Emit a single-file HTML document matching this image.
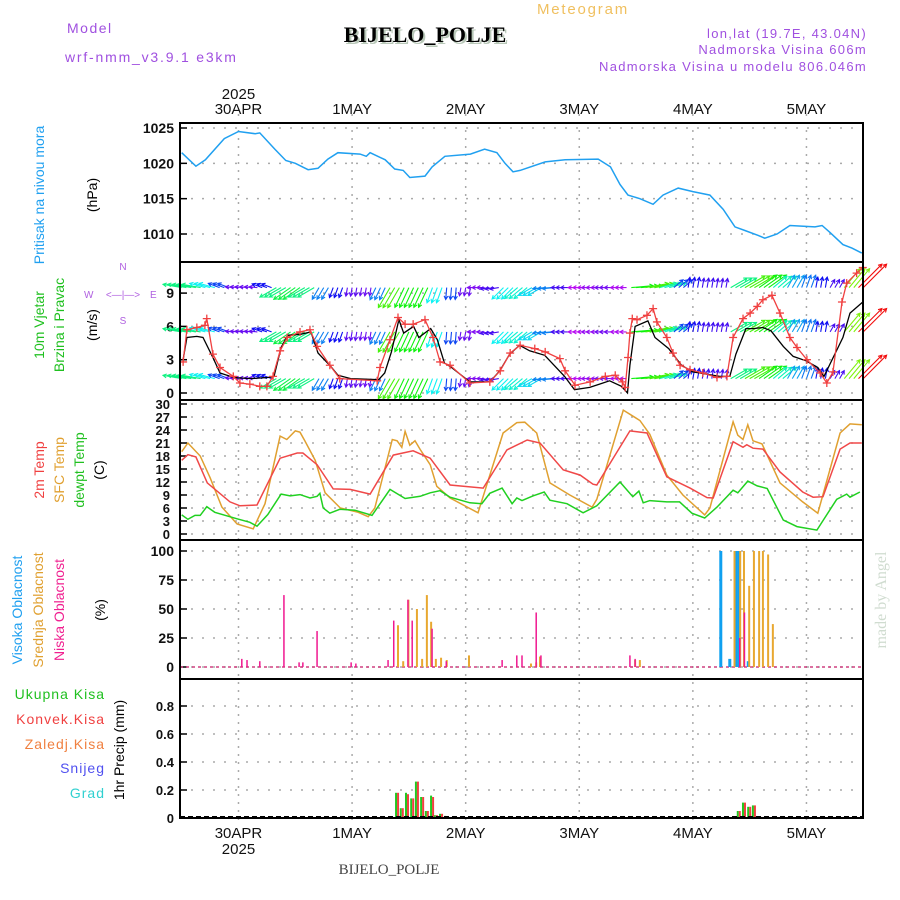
<!DOCTYPE html>
<html><head><meta charset="utf-8"><style>
body{margin:0;background:#fff;}
svg{display:block;font-family:"Liberation Sans",sans-serif;}
</style></head><body>
<svg id="chart" width="900" height="900" viewBox="0 0 900 900">
<rect width="900" height="900" fill="#fff"/>
<g>
<text x="67" y="33" font-size="14" fill="#a050e0" letter-spacing="1.5">Model</text>
<text x="65" y="62" font-size="14" fill="#a050e0" letter-spacing="1.8">wrf-nmm_v3.9.1 e3km</text>
<text x="427" y="44" font-size="22" font-weight="bold" font-family="Liberation Serif,serif" fill="#b8c8b8" text-anchor="middle">BIJELO_POLJE</text>
<text x="425" y="42" font-size="22" font-weight="bold" font-family="Liberation Serif,serif" fill="#000" text-anchor="middle">BIJELO_POLJE</text>
<text x="583" y="14" font-size="15" fill="#f0c060" text-anchor="middle" letter-spacing="1.8">Meteogram</text>
<text x="867" y="38" font-size="13" fill="#a050e0" text-anchor="end" letter-spacing="1.3">lon,lat (19.7E, 43.04N)</text>
<text x="867" y="54" font-size="13" fill="#a050e0" text-anchor="end" letter-spacing="1.3">Nadmorska Visina 606m</text>
<text x="867" y="71" font-size="13" fill="#a050e0" text-anchor="end" letter-spacing="1.3">Nadmorska Visina u modelu 806.046m</text>
</g>
<g font-size="14">
<text transform="translate(44,195) rotate(-90)" text-anchor="middle" fill="#20a0f0">Pritisak na nivou mora</text>
<text transform="translate(97,195) rotate(-90)" text-anchor="middle" fill="#000">(hPa)</text>
<text transform="translate(44,325) rotate(-90)" text-anchor="middle" fill="#20c020">10m Vjetar</text>
<text transform="translate(64,325) rotate(-90)" text-anchor="middle" fill="#20c020">Brzina i Pravac</text>
<text transform="translate(97,325) rotate(-90)" text-anchor="middle" fill="#000">(m/s)</text>
<g fill="#b060e0" font-size="10">
<text x="123" y="270" text-anchor="middle">N</text><text x="123" y="324" text-anchor="middle">S</text>
<text x="84" y="298">W</text><text x="150" y="298">E</text>
<text x="123" y="298" text-anchor="middle">&lt;—|—&gt;</text>
</g>
<text transform="translate(44,470) rotate(-90)" text-anchor="middle" fill="#f04040">2m Temp</text>
<text transform="translate(64,470) rotate(-90)" text-anchor="middle" fill="#e0a030">SFC Temp</text>
<text transform="translate(84,470) rotate(-90)" text-anchor="middle" fill="#20c020">dewpt Temp</text>
<text transform="translate(104,470) rotate(-90)" text-anchor="middle" fill="#000">(C)</text>
<text transform="translate(22,610) rotate(-90)" text-anchor="middle" fill="#20a0f0">Visoka Oblacnost</text>
<text transform="translate(43,610) rotate(-90)" text-anchor="middle" fill="#e0a030">Srednja Oblacnost</text>
<text transform="translate(64,610) rotate(-90)" text-anchor="middle" fill="#f02090">Niska Oblacnost</text>
<text transform="translate(105,610) rotate(-90)" text-anchor="middle" fill="#000">(%)</text>
<g text-anchor="end" font-size="14" letter-spacing="1">
<text x="105" y="699" fill="#20c020">Ukupna Kisa</text>
<text x="105" y="724" fill="#f04040">Konvek.Kisa</text>
<text x="105" y="749" fill="#f08040">Zaledj.Kisa</text>
<text x="105" y="773" fill="#5050f0">Snijeg</text>
<text x="105" y="798" fill="#30d0d0">Grad</text>
</g>
<text transform="translate(124,750) rotate(-90)" text-anchor="middle" fill="#000">1hr Precip (mm)</text>
</g>
<text transform="translate(886,600) rotate(-90)" text-anchor="middle" font-size="16" font-family="Liberation Serif,serif" fill="#d0dcd0">made by Angel</text>
<text x="389" y="874" font-size="15" font-family="Liberation Serif,serif" fill="#444" text-anchor="middle">BIJELO_POLJE</text>
<g id="plot"></g>
</svg>
<script>
// ---- data (hours since 29APR 12Z) ----
const dayLabels = ["30APR","1MAY","2MAY","3MAY","4MAY","5MAY"];
const dayHours = [12,36,60,84,108,132];
const presHours = [0,3,5,9,12,15.5,16.5,19.7,22,24,26.7,28.8,30.9,33,37.7,39,39.8,43,45,46.8,48.2,51.4,52.9,55.6,61,64,66.6,68.3,70,71.5,76.8,81,88,90.6,92.6,94.3,96.8,99.6,101.7,104.9,108,111.6,114.4,116.9,119,121.8,123.2,125.8,128.5,133.8,135.3,137,139.7,141.6,143.7];
const presVals = [1021.5,1019.6,1020.5,1023.5,1024.5,1024.2,1024.3,1022,1020.4,1020,1019.1,1019.3,1020.6,1021.5,1021.3,1021,1021.5,1020.5,1019.2,1019,1018,1018.2,1019.5,1021,1021.3,1022,1021.5,1020,1018.8,1019,1020.2,1020.5,1020.6,1019.5,1017,1015.5,1015,1014.2,1015.5,1016.5,1016,1015.5,1013.5,1011,1010.5,1009.8,1009.4,1010,1011.2,1011,1011.2,1010.2,1008.5,1008,1007.3];
const presTicks = [1010,1015,1020,1025];
const windTicks = [0,3,6,9];
const spdHours = [0.3,1.1,3.2,4.5,6.6,8.1,11,14.6,18.2,19.5,21,22.4,25.2,27.3,28.8,31.5,33,35.7,41.6,42.9,44.3,45.9,46.9,49,50.1,52.6,54,55.5,56.7,60.9,65.1,67.2,69.3,71.4,73.5,76.7,80.9,83,86.2,88.3,90.4,92.9,94.2,94.7,95.8,98.5,100,102.9,105.6,108,113.7,115.8,117.1,119.2,120.7,122.8,124.5,127.1,129.2,131.9,134.4,135.7,139.7,141.2,143.9];
const spdVals = [3,5,5.1,5,3.2,1.8,1.4,1.3,1.4,1.5,4.1,5.2,5.3,5.5,3.6,2.4,1.6,1.3,1.2,1.8,3.7,6.6,5.4,6,5,5.8,4.8,2.7,2.4,1,1,2,3.5,4.3,3.8,3.4,1.5,0.3,0.5,0.8,1.1,0.6,0,2.5,6,6.5,5,4,2.5,1.9,1.5,1.5,3.5,5.8,5.8,5.9,5.6,4.2,3.3,2.9,2.3,1.5,5,7.2,8.2];
const gustHours = [0.3,1.1,3.2,4.9,5.3,6.6,8.1,10.9,12.3,14.4,16.5,18,19.3,20.8,22.3,25,27.1,28.6,31.3,33.4,41.3,41.9,44,45.7,47.2,48.9,51.4,53.1,54.6,56.7,60.9,65.1,67.3,69.4,71.5,74.6,76.8,79.9,81,83.1,86.3,89.5,91.6,93.1,93.7,94.3,94.7,95.2,96.2,98.3,99.6,100.4,102.5,103.8,105.3,107.4,110.1,113.1,115.2,116.5,118.6,120.1,121.6,122.8,124.7,126.4,128.5,130,132.1,134.9,136.3,137.6,139.5,140.5,142.6,143.9];
const gustVals = [2.8,5.7,5.9,6.1,6.7,3.5,2.3,1.5,0.9,0.8,0.6,0.6,1.5,3.8,5,5.5,5.7,4.2,2.5,1.3,1.1,2.3,4.8,6.8,6.2,6.2,6.6,5,2.8,2.5,0.9,1,2,3.6,4.3,4,3.7,3.1,2,0.7,1,1.5,1.6,1,0.5,3.2,5.4,6.7,6.6,7,7.6,6.4,5,3.6,2.5,2.1,1.8,1.4,1.5,5,6.7,7.2,7.8,8.4,8.8,7.2,5,4.1,3,1.8,0.9,1.9,8.2,9.9,10.8,11.3];
const arrowHours = [0,3,6,9,12,15,18,21,24,27,30,33,36,39,42,45,48,51,54,57,60,63,66,69,72,75,78,81,84,87,90,93,96,99,102,105,108,111,114,117,120,123,126,129,132,135,138,141,144];
const arrowDir = [190,190,195,200,185,185,200,150,145,150,120,110,100,100,115,120,115,115,110,95,100,180,170,135,140,150,175,180,180,180,180,180,-5,-10,-15,-40,-80,-80,-80,-30,-30,-35,-40,-60,-70,-80,-60,-50,-45];
const arrowSpd = [5,5,4,2.5,1.2,1.2,2,5,5.5,5,3,2,1.3,1.2,3,6.5,6,6,4,2.5,1.2,1,1.5,4,4.3,3.8,3,1.5,0.5,0.8,1.1,0.6,6,6.5,4.5,2.5,1.9,1.6,1.5,5,6.5,6,4.5,3.3,2.9,2,1.5,7,10];
const arrowRows = [9.5,5.5,1.3];
const tempTicks = [0,3,6,9,12,15,18,21,24,27,30];
const t2Hours = [0,1.3,3,5.4,10.2,12.3,15.9,20.8,24.4,25.6,28.6,32,35.6,39.8,44.7,48.9,52.5,56.7,63.7,68.7,73,75.7,80.6,84.2,86.9,87.7,94.7,98.3,102.5,107.4,111,112.3,116.5,118.6,119.4,120.7,122.8,126.4,131.2,133.4,135.5,139.1,141.2,143.7];
const t2Vals = [17,18.3,17.8,11.8,7.4,6.5,6.7,17.5,18.7,18.7,16,10.4,10.3,9.2,18.2,19.2,17.5,11.3,10.6,19.4,21.7,21,14.8,13.6,11.5,11.3,23.8,23.3,13.2,10.6,8.4,8.3,21.3,20,20.6,19.8,19.6,14.3,9.7,8.5,8.6,19.6,21,21];
const sfcHours = [0,1.3,3.9,6,8.5,11.7,15.1,17.6,20.8,22.2,24,25,26,28.2,30.3,33.5,37.3,39.4,40.8,44.5,45.5,46.5,47.2,48.2,49.3,50.4,52.5,53.9,56.7,62.6,67.9,70.8,72.5,75,77.8,82,86.7,87.7,93.3,96.8,98.9,102.5,105.9,110.5,111.6,116.5,117.5,118.6,119.6,120.7,122.6,126.4,131.2,134.4,139.1,141.2,143.7];
const sfcVals = [19,21,18,13,6.2,2.3,1.2,7,22.6,21.8,23.8,23.5,21.5,17,9.5,6,5,4,6,21.8,21.5,20,23.7,20.5,21.5,19.5,16,11,8.3,4.9,23.3,25.7,25.8,23.3,11.8,9,6.2,8,28.6,26.2,23,13.6,9,4.4,6,25.9,22.8,21.8,25.2,21.5,20.8,11.8,7.4,4.8,23.3,25.4,25.2];
const dewHours = [0,1.3,2.8,3.9,5.3,7,11.7,14.4,15.9,18.2,21,22.9,25,27.1,28.6,29.2,29.9,31.3,33.4,36.6,40.2,44,47.2,50.4,52.5,54.6,56.7,60.9,63.4,65.1,67.7,69.8,70.8,71.9,74.2,76.6,77.8,81.4,84.8,87.7,92.6,95.3,96.6,97.5,98.9,102.5,105.2,107.8,110.5,113.1,116.5,117.5,119.6,121.6,123.7,127.1,130,134.2,138.4,140.5,141.2,143.3];
const dewVals = [4.4,3.4,4.3,4.3,6.3,5,3.5,2.7,1.8,4.5,9.2,8.8,9.1,8.3,8.7,9.4,6,4.8,5.7,5.5,4.3,10.3,8.2,8.7,9.5,10,8.5,7.2,7,9.4,10.6,7,8.3,7.7,8.8,9.7,7.8,7,4.9,6.5,12,8.6,9.9,7.2,7.7,7.4,7.4,4.8,3.7,6.2,10.1,9.5,12.2,11.1,10.5,3.2,1.7,0.9,8,9.2,8.5,9.7];
const cloudTicks = [0,25,50,75,100];
const lowHours = [12.7,13.8,16.5,21.6,24.8,25.6,28.6,35.8,36.8,43.6,44.8,47.8,48.7,52.9,55.9,67.7,70.8,71.9,74.9,75.9,94.7,95.8,117.9,118.9];
const lowVals = [7,6,5,62,4,4,31,4,3,6,40,58,40,33,5,6,10,10,47,10,10,7,25,47];
const midHours = [45.7,46.8,47.9,49.7,50.8,51.8,52.7,53.7,54.8,56,60.7,73.8,74.9,75.7,95.8,96.8,116.8,118,118.8,119.9,120.9,122,122.8,123.9,124.9];
const midVals = [36,5,58,50,7,62,39,7,8,6,10,3,4,9,6,6,100,100,100,70,100,100,100,97,37];
const highHours = [113.9,115.8,117.1,117.7,119.7];
const highVals = [100,7,100,100,5];
const precipTicks = [0,0.2,0.4,0.6,0.8];
const rainHours = [45.5,46.5,47.6,48.7,49.7,50.8,51.8,52.9,53.7,54.8,55.9,117.7,118.8,119.9,120.9,122];
const totalVals = [0.18,0.07,0.18,0.14,0.26,0.15,0.05,0.16,0.02,0.03,0.015,0.05,0.11,0.08,0.09,0.01];
const convVals = [0.18,0.07,0.17,0.14,0.26,0.15,0.05,0.15,0.02,0.03,0.01,0.05,0.11,0.08,0.09,0.01];

// ---- layout ----
const NS="http://www.w3.org/2000/svg";
const L=180,R=863;
const X=h=>181.7+4.733*h;
const yP=v=>128+(1025-v)*7.067;
const yW=v=>393-11.1*v;
const yT=v=>534-4.333*v;
const yC=v=>667-1.16*v;
const yR=v=>818-140*v;
const plot=document.getElementById('plot');
function mk(tag,attrs,parent){const e=document.createElementNS(NS,tag);for(const k in attrs)e.setAttribute(k,attrs[k]);(parent||plot).appendChild(e);return e;}
function grid(ticks,yf,name,fmt,anchorX){
  const g=mk('g',{});
  
  
  ticks.forEach(t=>{
    const y=yf(t);
    const ln=mk('line',{x1:L,x2:R,y1:y,y2:y,stroke:'#aaa','stroke-dasharray':'2,9','stroke-width':1.5},g);
    
    
    const tk=mk('line',{x1:L,x2:L+7,y1:y,y2:y,stroke:'#000','stroke-width':1.5},g);
    
    
    const tx=mk('text',{x:anchorX||174,y:y+5,'text-anchor':'end','font-size':fmt?13:14,'font-weight':'bold',fill:'#111'},g);
    
    
    tx.textContent=fmt?fmt(t):t;
  });
}
dayHours.forEach((h,i)=>{
  const x=X(h);
  const v=mk('line',{x1:x,x2:x,y1:114,y2:826,stroke:'#aaa','stroke-dasharray':'2,6','stroke-width':1.5});
  
  
  const t=mk('text',{x:x,y:114,'text-anchor':'middle','font-size':15,fill:'#111'});
  
  
  t.textContent=dayLabels[i];
  const b=mk('text',{x:x,y:838,'text-anchor':'middle','font-size':15,fill:'#111'});
  
  
  b.textContent=dayLabels[i];
});
const y1=mk('text',{x:X(12),y:99,'text-anchor':'middle','font-size':15,fill:'#111'});


y1.textContent='2025';
const y2=mk('text',{x:X(12),y:854,'text-anchor':'middle','font-size':15,fill:'#111'});


y2.textContent='2025';

grid(presTicks,yP,'pressure');
grid(windTicks,yW,'wind');
grid(tempTicks,yT,'temp',t=>t,170);
grid(cloudTicks,yC,'cloud');
grid(precipTicks,yR,'precip',t=>t===0?'0':t.toFixed(1));

function line(hs,vs,yf,color,name,w){
  const d=hs.map((h,i)=>(i?'L':'M')+X(h).toFixed(1)+','+yf(vs[i]).toFixed(1)).join('');
  const p=mk('path',{d:d,fill:'none',stroke:color,'stroke-width':w||1.5});
  
  
  return p;
}
line(presHours,presVals,yP,'#20a0f0','pressure-line');

function hueFor(s){return Math.max(0,Math.min(285,300-s*30));}
arrowRows.forEach(rv=>{
  arrowHours.forEach((h,i)=>{
    [-1,0,1].forEach(dh=>{
      const hh=h+dh;
      if(hh<0||hh>144)return;
      const x=X(hh),y=yW(rv);
      const a=arrowDir[i]*Math.PI/180,len=5+2.8*arrowSpd[i];
      const ex=x+Math.cos(a)*len,ey=y+Math.sin(a)*len;
      const col='hsl('+hueFor(arrowSpd[i])+',90%,50%)';
      const h1=a+Math.PI-0.5,h2=a+Math.PI+0.5;
      const d='M'+x.toFixed(1)+','+y.toFixed(1)+'L'+ex.toFixed(1)+','+ey.toFixed(1)+'M'+(ex+Math.cos(h1)*4).toFixed(1)+','+(ey+Math.sin(h1)*4).toFixed(1)+'L'+ex.toFixed(1)+','+ey.toFixed(1)+'L'+(ex+Math.cos(h2)*4).toFixed(1)+','+(ey+Math.sin(h2)*4).toFixed(1);
      const p=mk('path',{d:d,fill:'none',stroke:col,'stroke-width':1.1});
      
      
    });
  });
});
line(spdHours,spdVals,yW,'#000','wind-speed-line',1.3);
line(gustHours,gustVals,yW,'#f04040','wind-gust-line',1.3);
gustHours.forEach((h,i)=>{
  const x=X(h),y=yW(gustVals[i]);
  const p=mk('path',{d:'M'+(x-4)+','+y+'h8M'+x+','+(y-4)+'v8',stroke:'#f04040','stroke-width':1.3});
  
  
});

line(sfcHours,sfcVals,yT,'#e0a030','sfc-temp-line');
line(t2Hours,t2Vals,yT,'#f04848','temp-2m-line');
line(dewHours,dewVals,yT,'#20d020','dewpoint-line');

const z1=mk('line',{x1:L,x2:R,y1:yC(0),y2:yC(0),stroke:'#d04080','stroke-dasharray':'3,3','stroke-width':1.5});


function bars(hs,vs,yf,color,w,off,name){
  hs.forEach((h,i)=>{
    const x=X(h)+off,y=yf(vs[i]),b=yf(0);
    const r=mk('rect',{x:x-w/2,y:y,width:w,height:b-y,fill:color});
    
    
  });
}
bars(highHours,highVals,yC,'#10a0f0',3,0,'cloud-high-bar');
bars(midHours,midVals,yC,'#e8a830',2,0,'cloud-mid-bar');
bars(lowHours,lowVals,yC,'#f01890',1.5,0,'cloud-low-bar');
bars(rainHours,totalVals,yR,'#20c820',2,-1,'precip-total-bar');
bars(rainHours,convVals,yR,'#f04040',2,1,'precip-conv-bar');
const z2=mk('line',{x1:L,x2:R,y1:817,y2:817,stroke:'#000','stroke-dasharray':'5,3','stroke-width':2});



[[123,262],[262,400],[400,540],[540,679],[679,818]].forEach(p=>{
  const r=mk('rect',{x:L,y:p[0],width:R-L,height:p[1]-p[0],fill:'none',stroke:'#000','stroke-width':2});
  
  
});
</script>
</body></html>
